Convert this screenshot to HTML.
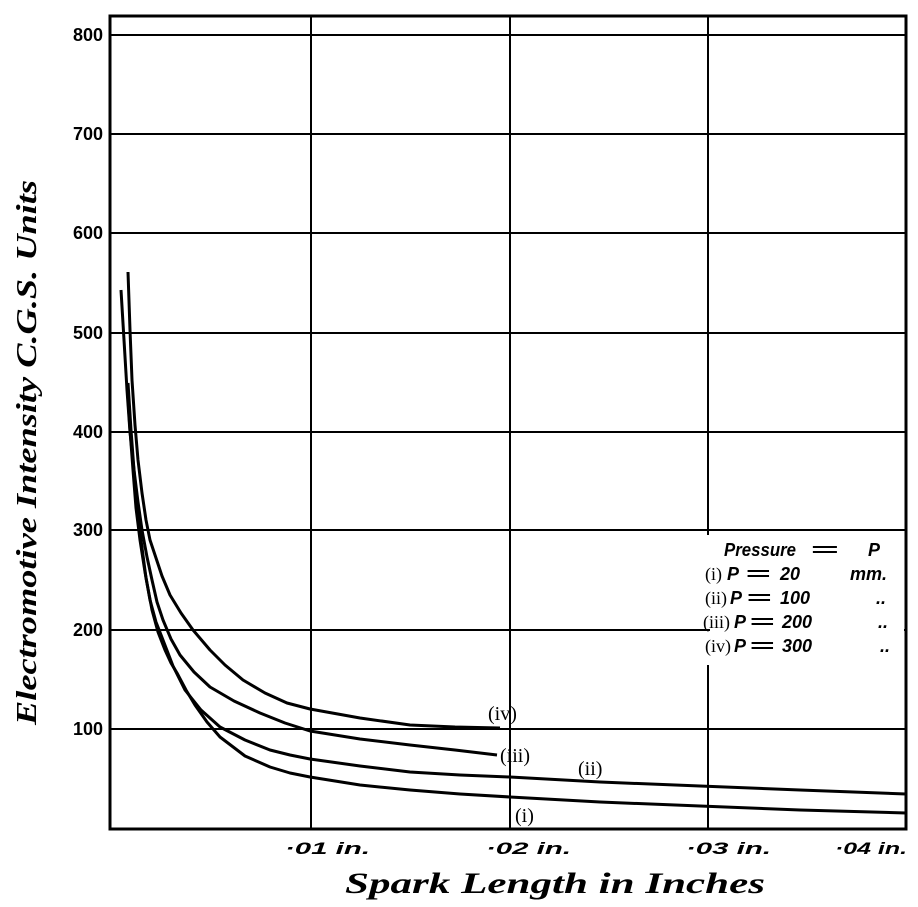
<!DOCTYPE html>
<html><head><meta charset="utf-8"><style>body{margin:0;background:#fff}svg{display:block}</style></head><body>
<svg width="918" height="907" viewBox="0 0 918 907" xmlns="http://www.w3.org/2000/svg">
<g stroke="#000" fill="none">
<rect x="110" y="16" width="796" height="813" stroke-width="3"/>
<g stroke-width="2">
<line x1="110" y1="35" x2="906" y2="35"/>
<line x1="110" y1="134" x2="906" y2="134"/>
<line x1="110" y1="233" x2="906" y2="233"/>
<line x1="110" y1="333" x2="906" y2="333"/>
<line x1="110" y1="432" x2="906" y2="432"/>
<line x1="110" y1="530" x2="906" y2="530"/>
<line x1="110" y1="630" x2="906" y2="630"/>
<line x1="110" y1="729" x2="906" y2="729"/>
<line x1="311" y1="16" x2="311" y2="829"/>
<line x1="510" y1="16" x2="510" y2="829"/>
<line x1="708" y1="16" x2="708" y2="535"/>
<line x1="708" y1="665" x2="708" y2="829"/>
</g>
<g stroke-width="3" stroke-linejoin="round">
<polyline points="128,272 130,330 132,380 135,425 138,460 142,493 146,520 150,540 155,555 162,576 170,595 181,613 193,630 210,650 225,665 243,680 265,693 287,703 310,709 360,718 410,725 455,727 500,728"/>
<polyline points="121,290 124,340 127,390 130,432 134,470 138,502 142,530 147,557 152,580 157,602 163,620 171,639 180,655 194,672 210,687 234,701 260,713 285,723 310,731 360,739 410,745 455,750 497,755"/>
<polyline points="127,383 130,430 133,470 136,508 140,540 145,572 150,600 156,622 163,640 173,666 185,690 201,710 220,727 245,740 270,750 290,755 310,759 360,766 410,772 460,775 510,777 600,782 700,786 800,790 906,794"/>
<polyline points="128,383 131,430 134,470 137,508 141,540 146,578 152,610 158,632 165,650 171,663 177,673 186,690 195,705 207,722 220,737 245,756 270,767 290,773 310,777 360,785 410,790 460,794 510,797 600,802 700,806 800,810 906,813"/>
</g>
</g>
<rect x="710" y="536" width="194" height="128" fill="#fff"/>
<g font-family="Liberation Sans, sans-serif" font-weight="bold" font-size="18" text-anchor="end">
<text x="103" y="41">800</text><text x="103" y="140">700</text><text x="103" y="239">600</text>
<text x="103" y="339">500</text><text x="103" y="438">400</text><text x="103" y="536">300</text>
<text x="103" y="636">200</text><text x="103" y="735">100</text>
</g>
<g font-family="Liberation Sans, sans-serif" font-weight="bold" font-size="17" font-style="italic">
<text x="285" y="854" textLength="85" lengthAdjust="spacingAndGlyphs">·01 in.</text>
<text x="486" y="854" textLength="85" lengthAdjust="spacingAndGlyphs">·02 in.</text>
<text x="686" y="854" textLength="85" lengthAdjust="spacingAndGlyphs">·03 in.</text>
<text x="835" y="854" textLength="72" lengthAdjust="spacingAndGlyphs">·04 in.</text>
</g>
<g font-family="Liberation Sans, sans-serif" font-weight="bold" font-size="18" font-style="italic">
<text x="724" y="556" textLength="72" lengthAdjust="spacingAndGlyphs">Pressure</text><text x="810" y="556" textLength="28" lengthAdjust="spacingAndGlyphs">=</text><text x="868" y="556">P</text>
<text x="727" y="580">P</text><text x="745" y="580" textLength="25" lengthAdjust="spacingAndGlyphs">=</text><text x="780" y="580">20</text><text x="850" y="580">mm.</text>
<text x="730" y="604">P</text><text x="746" y="604" textLength="25" lengthAdjust="spacingAndGlyphs">=</text><text x="780" y="604">100</text><text x="876" y="604">..</text>
<text x="734" y="628">P</text><text x="749" y="628" textLength="25" lengthAdjust="spacingAndGlyphs">=</text><text x="782" y="628">200</text><text x="878" y="628">..</text>
<text x="734" y="652">P</text><text x="749" y="652" textLength="25" lengthAdjust="spacingAndGlyphs">=</text><text x="782" y="652">300</text><text x="880" y="652">..</text>
</g>
<g font-family="Liberation Serif, serif" font-size="18">
<text x="705" y="580">(i)</text><text x="705" y="604">(ii)</text><text x="703" y="628">(iii)</text><text x="705" y="652">(iv)</text>
</g>
<g font-family="Liberation Serif, serif" font-size="20">
<text x="488" y="720">(iv)</text><text x="500" y="762">(iii)</text>
<text x="578" y="775">(ii)</text><text x="515" y="822">(i)</text>
</g>
<text x="345" y="893" font-family="Liberation Serif, serif" font-style="italic" font-weight="bold" font-size="30" textLength="420" lengthAdjust="spacingAndGlyphs">Spark Length in Inches</text>
<text transform="translate(36,725) rotate(-90)" font-family="Liberation Serif, serif" font-style="italic" font-weight="bold" font-size="28" textLength="545" lengthAdjust="spacingAndGlyphs">Electromotive Intensity C.G.S. Units</text>
</svg>
</body></html>
